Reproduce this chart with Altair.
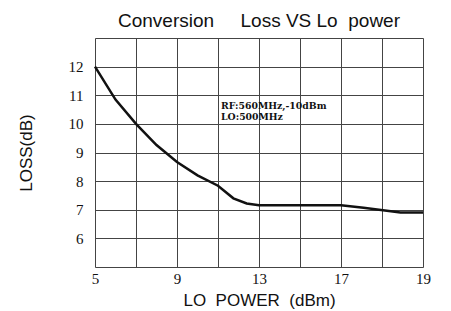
import altair as alt
import pandas as pd

lo_power = [5, 6, 7, 8, 9, 10, 11, 11.75, 12.4, 13, 17, 17.55, 18.45, 19]
loss = [12.0, 10.85, 10.0, 9.26, 8.67, 8.2, 7.84, 7.4, 7.22, 7.16, 7.16, 7.07, 6.9, 6.9]

x_grid = [5, 7, 9, 11, 13, 15, 17, 18, 19]
x_labels = [5, 9, 13, 17, 19]
y_grid = [5, 6, 7, 8, 9, 10, 11, 12, 13]
y_labels = [6, 7, 8, 9, 10, 11, 12]

note_x = [11.15, 11.15]
note_y = [10.62, 10.25]
note_text = ["RF:560MHz,-10dBm", "LO:500MHz"]

NB = "\u00a0"
title_text = "Conversion" + NB * 5 + "Loss VS Lo" + NB * 2 + "power"
x_title = "LO" + NB * 2 + "POWER" + NB * 2 + "(dBm)"

df = pd.DataFrame({"p": lo_power, "l": loss})
notes = pd.DataFrame({"p": note_x, "l": note_y, "t": note_text})

xlab = "indexof([" + ",".join(str(v) for v in x_labels) + "], datum.value) >= 0 ? datum.label : ''"
ylab = "indexof([" + ",".join(str(v) for v in y_labels) + "], datum.value) >= 0 ? datum.label : ''"

x_axis = alt.Axis(values=x_grid, labelExpr=xlab, title=x_title, labelOverlap=False,
                  labelFont="Liberation Serif", labelFontSize=15, labelColor="#111",
                  labelPadding=4, tickSize=0, domain=False,
                  titleFont="Liberation Sans", titleFontSize=17, titleFontWeight="normal",
                  titleColor="#111", titlePadding=6,
                  grid=True, gridColor="#444", gridWidth=1, labelFlush=False)
y_axis = alt.Axis(values=y_grid, labelExpr=ylab, title="LOSS(dB)", labelOverlap=False,
                  labelFont="Liberation Serif", labelFontSize=15, labelColor="#111",
                  labelPadding=12, tickSize=0, domain=False,
                  titleFont="Liberation Sans", titleFontSize=17, titleFontWeight="normal",
                  titleColor="#111", titlePadding=33,
                  grid=True, gridColor="#444", gridWidth=1)
x_scale = alt.Scale(domain=[5, 17, 19], range=[0, 246, 328], nice=False, zero=False)
y_scale = alt.Scale(domain=[5, 13], nice=False, zero=False)

line = alt.Chart(df).mark_line(color="#111", strokeWidth=2.5).encode(
    x=alt.X("p:Q", scale=x_scale, axis=x_axis),
    y=alt.Y("l:Q", scale=y_scale, axis=y_axis))

text = alt.Chart(notes).mark_text(
    align="left", baseline="middle", font="DejaVu Serif", fontSize=9.3, fontWeight="bold",
    color="#111").encode(
    x=alt.X("p:Q", scale=x_scale, axis=x_axis),
    y=alt.Y("l:Q", scale=y_scale, axis=y_axis), text="t:N")

dot1 = alt.Chart(pd.DataFrame({"a": [0]})).mark_circle(color="#111", size=8, opacity=1).encode(
    x=alt.value(-90), y=alt.value(-4))
dot2 = alt.Chart(pd.DataFrame({"a": [0]})).mark_circle(color="#111", size=8, opacity=1).encode(
    x=alt.value(-90), y=alt.value(8))

chart = alt.layer(line, text, dot1, dot2).properties(
    width=328, height=229,
    padding={"left": 87, "top": 30, "right": 20, "bottom": 44},
    autosize=alt.AutoSizeParams(type="none"),
    title=alt.TitleParams(title_text, font="Liberation Sans",
                          fontSize=19, fontWeight="normal", color="#111", anchor="middle",
                          offset=0),
).configure_view(stroke="#111", strokeWidth=3).configure_axis(
    labelOverlap=False).configure(background="white")

chart.save("out.html", embed_options={"renderer": "svg", "actions": False})
